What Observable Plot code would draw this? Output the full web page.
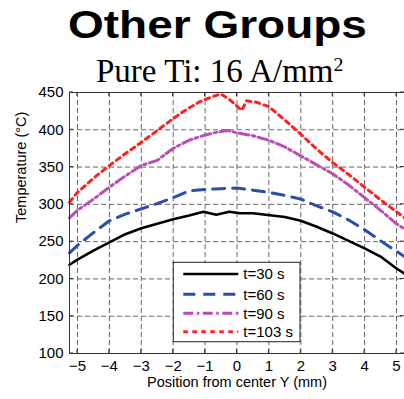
<!DOCTYPE html>
<html>
<head>
<meta charset="utf-8">
<script src="https://cdn.jsdelivr.net/npm/d3@7"></script>
<script src="https://cdn.jsdelivr.net/npm/@observablehq/plot@0.6"></script>
<style>
  html, body { margin: 0; padding: 0; background: white; }
  #wrap { position: relative; width: 404px; height: 399px; overflow: hidden; }
  #header { position: relative; width: 404px; height: 84px; }
  #title { position: absolute; left: 68px; top: 6px; font: bold 38px "Liberation Sans", Arial, sans-serif; line-height: 1; white-space: nowrap; transform-origin: 0 0; transform: scaleX(1.21); color: #000; }
  #subtitle { position: absolute; left: 96px; top: 55px; font: 33px "Liberation Serif", "Times New Roman", serif; line-height: 1; white-space: nowrap; color: #000; }
  #subtitle .sup { font-size: 0.6em; vertical-align: 0.55em; }
  #chart svg { display: block; }
</style>
</head>
<body>
<div id="wrap">
  <div id="header">
    <div id="title">Other Groups</div>
    <div id="subtitle">Pure Ti: 16 A/mm<span class="sup">2</span></div>
  </div>
  <div id="chart"></div>
</div>
<script>
// ---- data ----
const seriesNames = ["t=30 s", "t=60 s", "t=90 s", "t=103 s"];

const x30 = [-5.25,-5,-4.5,-4,-3.5,-3,-2.5,-2,-1.5,-1.05,-0.65,-0.25,0.1,0.5,0.9,1.5,2,2.5,3,3.5,4,4.5,5,5.25];
const y30 = [219,226,238,249,260,268,274,280,285,290,286,290,288,288,286,283,278,270,261,251,241,230,214,207];

const x60 = [-5.25,-5,-4.5,-4,-3.5,-3,-2.5,-2,-1.5,-1,-0.5,0,0.5,1,1.5,2,2.5,3,3.5,4,4.5,5,5.25];
const y60 = [235,245,262,278,287,294,301,309,318,320,321,322,319,316,312,307,298,290,279,266,251,237,230];

const x90 = [-5.25,-5,-4.5,-4,-3.5,-3,-2.5,-2,-1.5,-1,-0.6,-0.3,0,0.5,1,1.5,2,2.5,3,3.5,4,4.5,5,5.25];
const y90 = [282,292,307,323,338,352,359,375,386,393,397,399,396,392,386,377,365,353,341,326,309,292,274,267];

const x103 = [-5.25,-5,-4.5,-4,-3.5,-3,-2.5,-2,-1.7,-1.2,-0.8,-0.5,-0.25,0.15,0.3,0.6,1,1.5,2,2.5,3,3.5,4,4.5,5,5.25];
const y103 = [303,316,335,352,368,383,399,415,424,437,444,448,441,426,439,437,431,413,394,374,356,340,323,306,290,282];

const xTicks = [-5,-4,-3,-2,-1,0,1,2,3,4,5];
const yTicks = [100,150,200,250,300,350,400,450];
const xLabel = "Position from center Y (mm)";
const yLabel = "Temperature (°C)";

// ---- styles ----
const styles = [
  {stroke: "#000000", strokeWidth: 2.6, dash: null},
  {stroke: "#2b4fa6", strokeWidth: 3, dash: "12,8"},
  {stroke: "#b94fb6", strokeWidth: 3, dash: "10,3.5,2.5,3.5"},
  {stroke: "#ff2020", strokeWidth: 3, dash: "4.5,4.5"}
];

const toRows = (xs, ys, name) => xs.map((x, i) => ({x, y: ys[i], name}));
const series = [
  toRows(x30, y30, seriesNames[0]),
  toRows(x60, y60, seriesNames[1]),
  toRows(x90, y90, seriesNames[2]),
  toRows(x103, y103, seriesNames[3])
];

const gridStyle = {stroke: "#666", strokeOpacity: 1, strokeWidth: 1, strokeDasharray: "5,3"};

function decorations(index, scales, values, dim) {
  const {x, y} = scales;
  const L = dim.marginLeft, R = dim.width - dim.marginRight;
  const T = dim.marginTop, B = dim.height - dim.marginBottom;
  const g = d3.create("svg:g");
  const tk = 4;
  for (const t of xTicks) {
    const px = x(t);
    g.append("line").attr("x1", px).attr("x2", px).attr("y1", B).attr("y2", B - tk).attr("stroke", "#333");
    g.append("line").attr("x1", px).attr("x2", px).attr("y1", T).attr("y2", T + tk).attr("stroke", "#333");
  }
  for (const t of yTicks) {
    const py = y(t);
    g.append("line").attr("x1", L).attr("x2", L + tk).attr("y1", py).attr("y2", py).attr("stroke", "#333");
    g.append("line").attr("x1", R).attr("x2", R - tk).attr("y1", py).attr("y2", py).attr("stroke", "#333");
  }
  // legend (pixel layout inside the frame)
  const lx = L + 104.3, ly = T + 170.3, lw = 126.7, lh = 79.4;
  const lg = g.append("g");
  lg.append("rect").attr("x", lx).attr("y", ly).attr("width", lw).attr("height", lh)
    .attr("fill", "white").attr("stroke", "#222").attr("stroke-width", 1);
  const rowY = [11.7, 32, 51, 69.4];
  seriesNames.forEach((name, i) => {
    const s = styles[i];
    const yy = ly + rowY[i];
    const ln = lg.append("line").attr("x1", lx + 10).attr("x2", lx + 65).attr("y1", yy).attr("y2", yy)
      .attr("stroke", s.stroke).attr("stroke-width", s.strokeWidth);
    if (s.dash) ln.attr("stroke-dasharray", s.dash);
    lg.append("text").attr("x", lx + 70).attr("y", yy).attr("dy", "0.35em")
      .attr("text-anchor", "start")
      .attr("font-size", 15).attr("fill", "#000").text(name);
  });
  return g.node();
}

const chart = Plot.plot({
  width: 404,
  height: 315,
  marginTop: 8,
  marginBottom: 46,
  marginLeft: 69,
  marginRight: 0,
  style: {fontFamily: "'Liberation Sans', Arial, sans-serif", fontSize: "15px", color: "#000", background: "white", overflow: "visible"},
  x: {domain: [-5.25, 5.25]},
  y: {domain: [100, 450]},
  marks: [
    Plot.gridX(xTicks, gridStyle),
    Plot.gridY(yTicks, gridStyle),
    ...series.map((rows, i) => Plot.line(rows, {
      x: "x", y: "y",
      stroke: styles[i].stroke,
      strokeWidth: styles[i].strokeWidth,
      strokeDasharray: styles[i].dash || undefined,
      strokeLinejoin: "round"
    })),
    decorations,
    Plot.frame({stroke: "#333", strokeWidth: 1}),
    Plot.axisX(xTicks, {tickSize: 0, tickPadding: 7, fontSize: 15, label: null}),
    Plot.axisY(yTicks, {tickSize: 0, tickPadding: 6, fontSize: 15, label: null}),
    Plot.text([yLabel], {text: d => d, frameAnchor: "left", dx: -48, rotate: -90, fontSize: 14.5, fill: "#000"}),
    Plot.text([xLabel], {text: d => d, frameAnchor: "bottom", dy: 33, fontSize: 14.5, fill: "#000"})
  ]
});
document.getElementById("chart").appendChild(chart);
</script>
</body>
</html>
